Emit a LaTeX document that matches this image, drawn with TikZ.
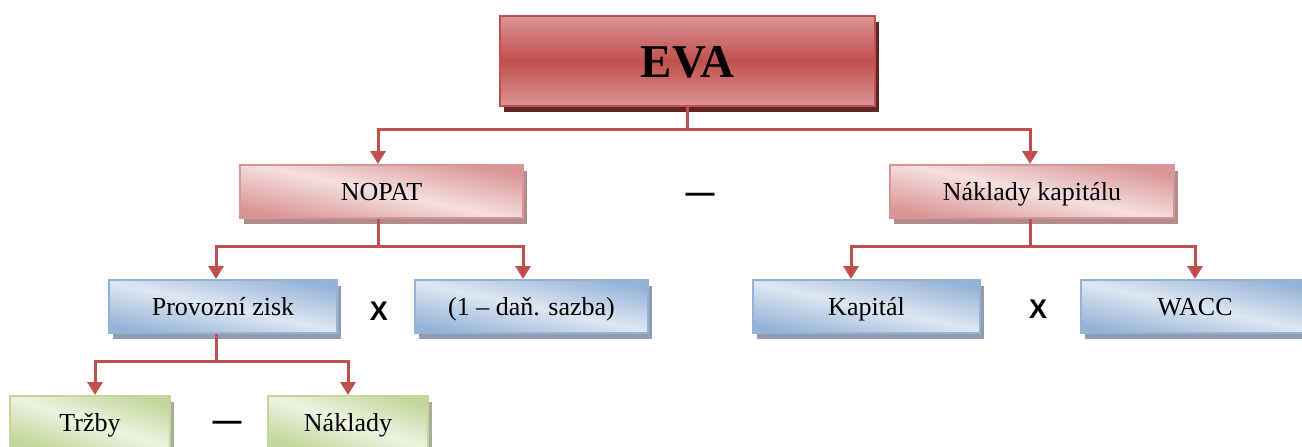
\documentclass[tikz,border=0pt]{standalone}
\usepackage{fontspec}
\setmainfont{Liberation Serif}
\newfontfamily\signfont{Liberation Sans}
\usetikzlibrary{arrows.meta,shadows,calc}

% palette
\definecolor{linkred}{HTML}{C0504D}
\definecolor{evaDk}{HTML}{C0504D}
\definecolor{evaLt}{HTML}{DA9594}
\definecolor{evaSh}{HTML}{622423}
\definecolor{pinkLt}{HTML}{F4E0DF}
\definecolor{pinkDk}{HTML}{D99594}
\definecolor{pinkSh}{HTML}{B28C8C}
\definecolor{blueLt}{HTML}{DDE7F2}
\definecolor{blueDk}{HTML}{95B3D7}
\definecolor{blueSh}{HTML}{919DAF}
\definecolor{greenLt}{HTML}{EDF3E1}
\definecolor{greenDk}{HTML}{C3D69B}
\definecolor{greenSh}{HTML}{A6AD98}

\begin{document}
\begin{tikzpicture}[x=1pt,y=-1pt,
  box/.style={rectangle, inner sep=0pt, minimum height=53pt, line width=2pt,
    font=\fontsize{26}{30}\selectfont, text height=17.2pt, text depth=0pt},
  shadowed/.style={drop shadow={shadow xshift=4pt, shadow yshift=-6pt,
    fill=#1, opacity=1}},
  evabox/.style={box, draw=evaDk, top color=evaLt, bottom color=evaLt,
    middle color=evaDk, shadowed=evaSh},
  pinkbox/.style={box, draw=pinkDk, top color=pinkDk, bottom color=pinkDk,
    middle color=pinkLt, shading angle=-12, shadowed=pinkSh},
  bluebox/.style={box, draw=blueDk, top color=blueDk, bottom color=blueDk,
    middle color=blueLt, shading angle=-12, shadowed=blueSh},
  greenbox/.style={box, draw=greenDk, top color=greenDk, bottom color=greenDk,
    middle color=greenLt, shading angle=-18, shadowed=greenSh},
  link/.style={draw=linkred, line width=3pt},
  tip/.style={-{Triangle[width=15pt,length=13pt]}},
  timessign/.style={inner sep=0pt, font=\signfont\bfseries\fontsize{27}{30}\selectfont,
    text height=19.3pt, text depth=0pt},
  minussign/.style={inner sep=0pt, font=\signfont\bfseries\fontsize{29}{30}\selectfont,
    text height=16pt, text depth=0pt}
]
\path[use as bounding box, clip] (0,0) rectangle (1302,447);

% top level
\node[evabox, minimum width=375pt, minimum height=90pt,
  font=\bfseries\fontsize{47}{56}\selectfont, text height=32pt] (eva) at (687.5,61) {EVA};

% second level
\node[pinkbox, minimum width=283pt] (nopat) at (381.5,191.5) {NOPAT};
\node[pinkbox, minimum width=284pt] (cost) at (1032,191.5) {Náklady kapitálu};

% third level
\node[bluebox, minimum width=228pt] (prov) at (223,306.5) {Provozní zisk};
\node[bluebox, minimum width=233pt] (tax) at (531.5,306.5) {(1 – daň. sazba)};
\node[bluebox, minimum width=227pt] (kap) at (866.5,306.5) {Kapitál};
\node[bluebox, minimum width=228pt] (wacc) at (1195,306.5) {WACC};

% fourth level
\node[greenbox, minimum width=160pt] (trz) at (90,422.5) {Tržby};
\node[greenbox, minimum width=160pt] (nak) at (348,422.5) {Náklady};

% operators
\node[minussign] (m1) at (700,194) {—};
\node[timessign] (x1) at (379,311) {X};
\node[timessign] (x2) at (1038,309) {X};
\node[minussign] (m2) at (227,422) {—};

% connectors
\draw[link] (eva.south) -- ++(0,22) coordinate (evabus);
\draw[link,tip] (evabus) -| ([xshift=-3.5pt]nopat.north);
\draw[link,tip] (evabus) -| ([xshift=-2pt]cost.north);

\draw[link] ([xshift=-3.5pt]nopat.south) -- ++(0,27) coordinate (nbus);
\draw[link,tip] (nbus) -| ([xshift=-7pt]prov.north);
\draw[link,tip] (nbus) -| ([xshift=-8.5pt]tax.north);

\draw[link] ([xshift=-2pt]cost.south) -- ++(0,27) coordinate (cbus);
\draw[link,tip] (cbus) -| ([xshift=-15.5pt]kap.north);
\draw[link,tip] (cbus) -| (wacc.north);

\draw[link] ([xshift=-7pt]prov.south) -- ++(0,27) coordinate (pbus);
\draw[link,tip] (pbus) -| ([xshift=5pt]trz.north);
\draw[link,tip] (pbus) -| (nak.north);
\end{tikzpicture}
\end{document}
